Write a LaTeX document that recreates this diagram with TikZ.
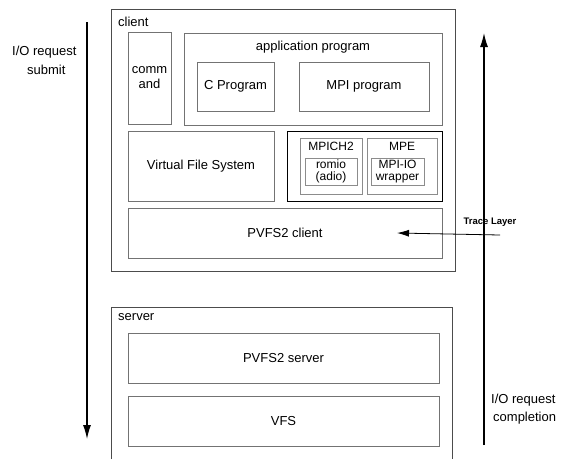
\documentclass[tikz,border=0pt]{standalone}
\usepackage{fontspec}
\setmainfont{Liberation Sans}
\usetikzlibrary{arrows.meta}

\begin{document}
\begin{tikzpicture}[x=1pt,y=-1pt,
    outerbox/.style={draw=black!70,line width=0.9pt,inner sep=0pt},
    innerbox/.style={draw=black!55,line width=0.8pt,inner sep=0pt,align=center,
      font=\fontsize{13}{15}\selectfont},
    smallbox/.style={draw=black!45,line width=0.8pt,inner sep=0pt,align=center,
      font=\fontsize{12}{12.5}\selectfont},
    lbl/.style={inner sep=0pt,font=\fontsize{13}{15}\selectfont},
    flow/.style={-{Latex[length=14pt,width=8pt]},line width=1.2pt}]
      \useasboundingbox (0,0) rectangle (569,459);
      % client side
      \node[outerbox,minimum width=344,minimum height=262] (client) at (283,140) {};
      \node[lbl,anchor=west] (clientlbl) at (118,22) {client};
      \node[innerbox,minimum width=43,minimum height=92] (cmd) at (149.5,78) {comm\\and};
      \node[innerbox,minimum width=258,minimum height=92] (app) at (313,79) {};
      \node[lbl] (applbl) at (313,47) {application program};
      \node[innerbox,minimum width=77,minimum height=49] (cprog) at (235.5,86.5) {C Program};
      \node[innerbox,minimum width=130,minimum height=49] (mpiprog) at (364,86.5) {MPI program};
      \node[innerbox,minimum width=146,minimum height=70] (vfsc) at (201,166) {Virtual File System};
      \node[draw=black,line width=0.9pt,minimum width=155,minimum height=70] (mpilib) at (364.5,166) {};
      \node[smallbox,minimum width=62,minimum height=56] (mpich) at (331,166) {};
      \node[lbl,font=\fontsize{12}{13}\selectfont] (mpichlbl) at (331,146) {MPICH2};
      \node[smallbox,minimum width=52,minimum height=27] (romio) at (331,171.5) {romio\\(adio)};
      \node[smallbox,minimum width=70,minimum height=56] (mpe) at (402,166) {};
      \node[lbl,font=\fontsize{12}{13}\selectfont] (mpelbl) at (402,146) {MPE};
      \node[smallbox,minimum width=53,minimum height=27] (mpiio) at (397.5,171.5) {MPI-IO\\wrapper};
      \node[innerbox,minimum width=314,minimum height=50] (pvfsc) at (285,233) {PVFS2 client};
      % server side
      \draw[draw=black!70,line width=0.9pt] (111,459) -- (111,307) -- (452,307) -- (452,459);
      \node[lbl,anchor=west] (serverlbl) at (118,317) {server};
      \node[innerbox,minimum width=311,minimum height=50] (pvfss) at (283.5,358) {PVFS2 server};
      \node[innerbox,minimum width=311,minimum height=50] (vfss) at (283.5,421) {VFS};
      % request flow
      \coordinate (downtop) at (87,22);
      \coordinate (downend) at (87,439);
      \coordinate (upbot) at (484,445);
      \coordinate (uptop) at (484,33);
      \draw[flow] (downtop) -- (downend);
      \draw[flow] (upbot) -- (uptop);
      \node[lbl,anchor=west] (submit1) at (12,52) {I/O request};
      \node[lbl,anchor=west] (submit2) at (27,70) {submit};
      \node[lbl,anchor=west] (done1) at (491,400) {I/O request};
      \node[lbl,anchor=west] (done2) at (493,418) {completion};
      % trace layer
      \coordinate (tracestart) at (500,235);
      \draw[-{Latex[length=12pt,width=7pt]},line width=0.8pt] (tracestart) -- (pvfsc.center -| 397,0);
      \node[inner sep=0pt,font=\fontsize{9.5}{11}\selectfont\bfseries] (tracelbl) at (490,222) {Trace Layer};
\end{tikzpicture}
\end{document}
